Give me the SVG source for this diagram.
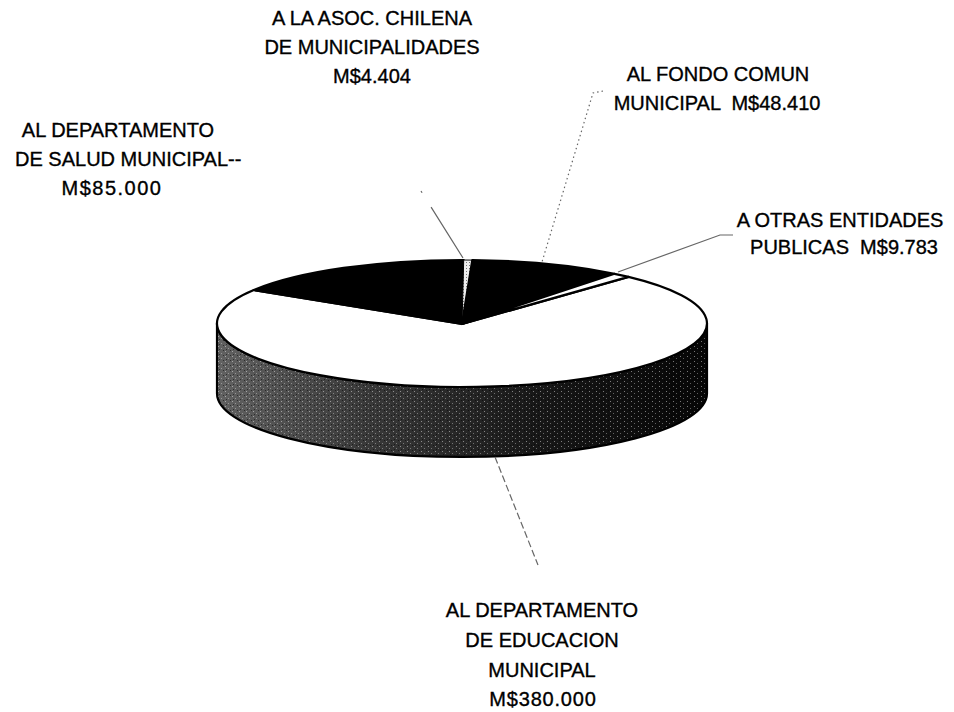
<svg xmlns="http://www.w3.org/2000/svg" width="954" height="712" viewBox="0 0 954 712">
  <style>
    .lbl { font-family: "Liberation Sans", Arial, sans-serif; font-size: 20px; fill: #000; stroke: #000; stroke-width: 0.35; }
    .mid { text-anchor: middle; }
    .edge { stroke: #000; stroke-width: 2.2; stroke-linejoin: round; }
    .lead { fill: none; stroke: #666; stroke-width: 1.2; }
  </style>
  <defs>
    <linearGradient id="sideGrad" x1="217" y1="0" x2="707" y2="0" gradientUnits="userSpaceOnUse">
      <stop offset="0" stop-color="#626262"/>
      <stop offset="0.3" stop-color="#3a3a3a"/>
      <stop offset="0.65" stop-color="#181818"/>
      <stop offset="1" stop-color="#060606"/>
    </linearGradient>
    <pattern id="dots" width="7" height="5" patternUnits="userSpaceOnUse">
      <rect x="1" y="1" width="1" height="1" fill="#fff" opacity="0.45"/>
      <rect x="4" y="3" width="1" height="1" fill="#fff" opacity="0.35"/>
      <rect x="6" y="0" width="1" height="1" fill="#000" opacity="0.5"/>
      <rect x="2" y="4" width="1" height="1" fill="#000" opacity="0.5"/>
    </pattern>
    <pattern id="stripDots" width="3" height="3" patternUnits="userSpaceOnUse">
      <rect width="3" height="3" fill="#eee"/>
      <rect x="1" y="1" width="1" height="1" fill="#777"/>
    </pattern>
  </defs>

  <g id="pie">
    <path id="side-educacion" class="edge" fill="url(#sideGrad)" d="M217,323.5 L217,393.5 A245,63.5 0 0 0 707,393.5 L707,323.5 A245,63.5 0 0 1 217,323.5 Z"/>
    <path id="side-texture" fill="url(#dots)" d="M218,324 L218,393 A244,62.5 0 0 0 706,393 L706,324 A244,62.5 0 0 1 218,324 Z"/>
    <path id="slice-educacion" class="edge" fill="#fff" d="M462,324 L628.5,276.9 A245,63.5 0 1 1 253.8,290 Z"/>
    <path id="slice-salud" class="edge" fill="#000" d="M462,324 L253.8,290 A245,63.5 0 0 1 463.7,260 Z"/>
    <path id="slice-asoc" fill="url(#stripDots)" stroke="#000" stroke-width="1" d="M462,324 L463.7,260 A245,63.5 0 0 1 472.3,260.1 Z"/>
    <path id="slice-fondo" class="edge" fill="#000" d="M462,324 L472.3,260.1 A245,63.5 0 0 1 614.5,273.8 Z"/>
    <path id="slice-otras" class="edge" fill="#fff" d="M462,324 L614.5,273.8 A245,63.5 0 0 1 628.5,276.9 Z"/>
  </g>

  <g id="connectors">
    <line id="lead-asoc" class="lead" x1="421" y1="191" x2="463" y2="258" stroke-dasharray="2 17 70"/>
    <polyline id="lead-fondo" class="lead" points="603,91 593,93 542,262" stroke-dasharray="1.5 3" stroke="#444"/>
    <polyline id="lead-otras" class="lead" points="618,272 720,235 733,235"/>
    <line id="lead-educacion" class="lead" x1="495" y1="457" x2="538" y2="565" stroke-dasharray="7 3"/>
  </g>

  <g id="label-asoc">
    <text class="lbl mid" x="372" y="25">A LA ASOC. CHILENA</text>
    <text class="lbl mid" x="372" y="54">DE MUNICIPALIDADES</text>
    <text class="lbl mid" x="372" y="83">M$4.404</text>
  </g>
  <g id="label-salud">
    <text class="lbl mid" x="118" y="137">AL DEPARTAMENTO</text>
    <text class="lbl" x="15" y="166">DE SALUD MUNICIPAL--</text>
    <text class="lbl mid" x="112" y="195" letter-spacing="1.5">M$85.000</text>
  </g>
  <g id="label-fondo">
    <text class="lbl mid" x="718" y="81">AL FONDO COMUN</text>
    <text class="lbl mid" x="717" y="110" xml:space="preserve">MUNICIPAL  M$48.410</text>
  </g>
  <g id="label-otras">
    <text class="lbl mid" x="840" y="227">A OTRAS ENTIDADES</text>
    <text class="lbl mid" x="844" y="254" xml:space="preserve">PUBLICAS  M$9.783</text>
  </g>
  <g id="label-educacion">
    <text class="lbl mid" x="542" y="617">AL DEPARTAMENTO</text>
    <text class="lbl mid" x="542" y="647">DE EDUCACION</text>
    <text class="lbl mid" x="542" y="677">MUNICIPAL</text>
    <text class="lbl mid" x="543" y="706" letter-spacing="0.8">M$380.000</text>
  </g>
</svg>
